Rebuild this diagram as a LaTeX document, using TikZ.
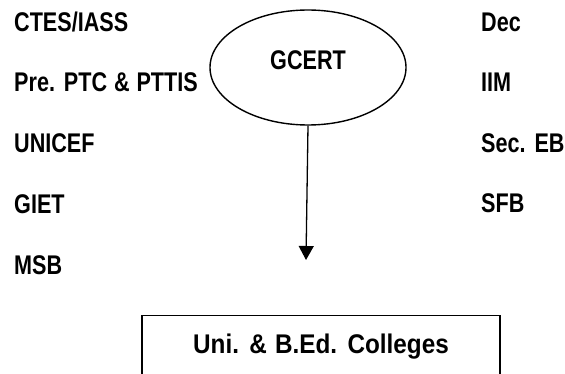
\documentclass[tikz,border=0pt]{standalone}
\usepackage{fontspec}
\setmainfont{Liberation Sans}
\newfontfamily\lblfont{Liberation Sans}[FakeStretch=0.8,WordSpace=1.15]
\newfontfamily\boxfont{Liberation Sans}[FakeStretch=0.9,WordSpace=1.2]
\usetikzlibrary{shapes.geometric,arrows.meta}
\begin{document}
\begin{tikzpicture}[x=1pt,y=-1pt,
  lbl/.style={inner sep=0pt,anchor=base west,font=\fontsize{27}{32}\selectfont\lblfont\bfseries},
  conn/.style={line width=1.3pt,-{Triangle[length=14pt,width=15pt]}}]
\useasboundingbox (0,0) rectangle (565,374);
\clip (0,0) rectangle (565,374);
\fill[white] (0,0) rectangle (565,374);
\node[lbl] (l1) at (14,32) {CTES/IASS};
\node[lbl] (l2) at (14,92) {Pre. PTC \& PTTIS};
\node[lbl] (l3) at (14,153) {UNICEF};
\node[lbl] (l4) at (14,214) {GIET};
\node[lbl] (l5) at (14,275) {MSB};
\node[lbl] (r1) at (481,32) {Dec};
\node[lbl] (r2) at (481,92) {IIM};
\node[lbl] (r3) at (481,153) {Sec. EB};
\node[lbl] (r4) at (481,213) {SFB};
\node[ellipse,draw,line width=1.4pt,fill=white,minimum width=196pt,minimum height=115pt,inner sep=0pt,
  font=\fontsize{27}{32}\selectfont\lblfont\bfseries,text height=20pt,text depth=15pt] (g) at (308,67.5) {GCERT};
\coordinate (tip) at (306,260);
\draw[conn] (g.south) -- (tip);
\node[draw,line width=1.4pt,anchor=north,minimum width=358pt,inner sep=0pt,text height=38pt,text depth=40pt,
  font=\fontsize{27}{32}\selectfont\boxfont\bfseries] (box) at (321,315) {Uni. \& B.Ed. Colleges};
\end{tikzpicture}
\end{document}
